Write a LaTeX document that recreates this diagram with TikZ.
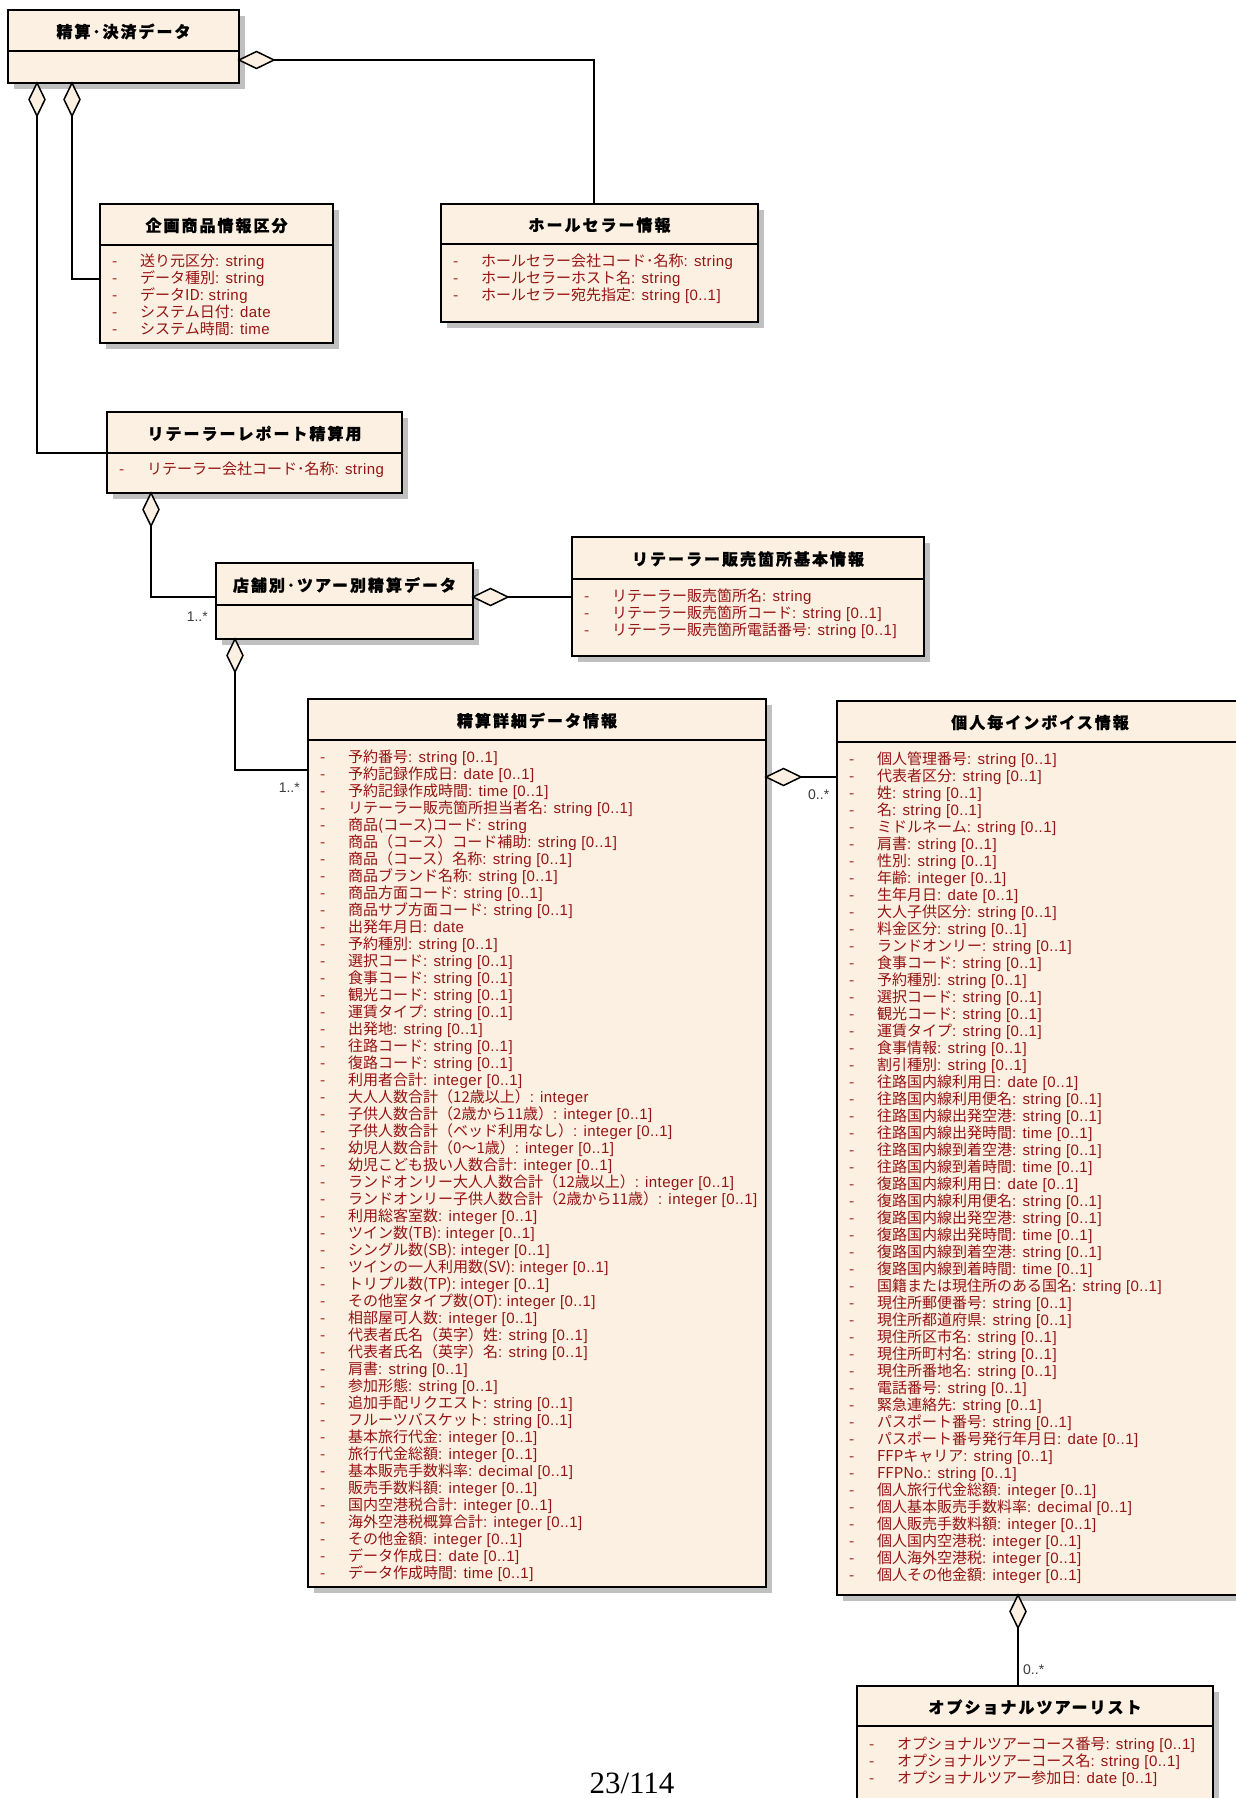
\documentclass[tikz,border=0pt]{standalone}
\usepackage{fontspec}
\usetikzlibrary{shapes.geometric,calc}
\newfontfamily\jpfont{Noto Sans CJK JP}
\newfontfamily\jptitle[LetterSpace=12.5,BoldFeatures={FakeBold=0.8}]{Noto Sans CJK JP}
\newfontfamily\latinfont[LetterSpace=3]{Liberation Sans}
\newfontfamily\pagefont{Liberation Serif}
\newfontfamily\multfont{Liberation Sans}
\definecolor{boxfill}{RGB}{251,240,225}
\definecolor{attrred}{RGB}{150,20,20}
\definecolor{shadowgray}{RGB}{192,192,192}
\definecolor{multgray}{RGB}{60,60,60}
\tikzset{
  classbox/.style={draw=black, line width=1.8pt, fill=boxfill, rectangle, inner sep=0pt, outer sep=0pt, anchor=north west},
  titletext/.style={font=\jptitle\bfseries\fontsize{16}{18}\selectfont, inner sep=0pt},
  attrtext/.style={font=\jpfont\fontsize{15}{17}\selectfont, text=attrred, inner sep=0pt, anchor=base west},
  conn/.style={draw=black, line width=1.5pt},
  aggdiamond/.style={diamond, draw=black, line width=1.5pt, fill=boxfill, inner sep=0pt, outer sep=0pt},
  vdiam/.style={aggdiamond, minimum width=16pt, minimum height=33pt, anchor=north},
  hdiam/.style={aggdiamond, minimum width=35pt, minimum height=17pt, anchor=west},
  mult/.style={font=\multfont\fontsize{14}{16}\selectfont, text=multgray, inner sep=0pt}
}
\def\attrsplit#1: #2\relax{{\jpfont #1}{\latinfont: #2}}
\newcommand\classbox[7]{%
  \fill[shadowgray] (#2+6,#3+6) rectangle (#2+#4+6,#3+#5+6);
  \node[classbox, minimum width=#4pt, minimum height=#5pt] (#1) at (#2,#3) {};
  \draw[line width=1.5pt] (#2,#3+#6) -- (#2+#4,#3+#6);
  \node[titletext] (#1-title) at (#2+#4/2,#3+#6/2+1) {#7};
}
\newcommand\attrlist[4]{%
  \foreach \txt [count=\n] in {#4} {
    \node[attrtext] (#1-a\n) at (#2+12, #3+6+\n*17-17) {\makebox[28pt][l]{-}\expandafter\attrsplit\txt\relax};
  }
}
\begin{document}
\begin{tikzpicture}[x=1pt,y=-1pt]
\useasboundingbox (0,0) rectangle (1236,1798);
\clip (0,0) rectangle (1236,1798);
\fill[white] (0,0) rectangle (1236,1798);

\classbox{A}{8}{10}{231}{73}{41}{精算･決済データ}
\classbox{B}{100}{204}{233}{139}{41}{企画商品情報区分}
\classbox{C}{441}{204}{317}{118}{40}{ホールセラー情報}
\classbox{D}{107}{412}{295}{81}{41}{リテーラーレポート精算用}
\classbox{E}{216}{563}{257}{76}{42}{店舗別･ツアー別精算データ}
\classbox{F}{572}{537}{352}{119}{42}{リテーラー販売箇所基本情報}
\classbox{G}{308}{699}{458}{888}{41}{精算詳細データ情報}
\classbox{H}{837}{701}{406}{894}{41}{個人毎インボイス情報}
\classbox{I}{857}{1686}{356}{150}{40}{オプショナルツアーリスト}

\attrlist{B}{100}{260}{{送り元区分: string},{データ種別: string},{データID: string},{システム日付: date},{システム時間: time}}
\attrlist{C}{441}{260}{{ホールセラー会社コード･名称: string},{ホールセラーホスト名: string},{ホールセラー宛先指定: string [0..1]}}
\attrlist{D}{107}{468}{{リテーラー会社コード･名称: string}}
\attrlist{F}{572}{595}{{リテーラー販売箇所名: string},{リテーラー販売箇所コード: string [0..1]},{リテーラー販売箇所電話番号: string [0..1]}}
\attrlist{G}{308}{756}{%
{予約番号: string [0..1]},
{予約記録作成日: date [0..1]},
{予約記録作成時間: time [0..1]},
{リテーラー販売箇所担当者名: string [0..1]},
{商品(コース)コード: string},
{商品（コース）コード補助: string [0..1]},
{商品（コース）名称: string [0..1]},
{商品ブランド名称: string [0..1]},
{商品方面コード: string [0..1]},
{商品サブ方面コード: string [0..1]},
{出発年月日: date},
{予約種別: string [0..1]},
{選択コード: string [0..1]},
{食事コード: string [0..1]},
{観光コード: string [0..1]},
{運賃タイプ: string [0..1]},
{出発地: string [0..1]},
{往路コード: string [0..1]},
{復路コード: string [0..1]},
{利用者合計: integer [0..1]},
{大人人数合計（12歳以上）: integer},
{子供人数合計（2歳から11歳）: integer [0..1]},
{子供人数合計（ベッド利用なし）: integer [0..1]},
{幼児人数合計（0～1歳）: integer [0..1]},
{幼児こども扱い人数合計: integer [0..1]},
{ランドオンリー大人人数合計（12歳以上）: integer [0..1]},
{ランドオンリー子供人数合計（2歳から11歳）: integer [0..1]},
{利用総客室数: integer [0..1]},
{ツイン数(TB): integer [0..1]},
{シングル数(SB): integer [0..1]},
{ツインの一人利用数(SV): integer [0..1]},
{トリプル数(TP): integer [0..1]},
{その他室タイプ数(OT): integer [0..1]},
{相部屋可人数: integer [0..1]},
{代表者氏名（英字）姓: string [0..1]},
{代表者氏名（英字）名: string [0..1]},
{肩書: string [0..1]},
{参加形態: string [0..1]},
{追加手配リクエスト: string [0..1]},
{フルーツバスケット: string [0..1]},
{基本旅行代金: integer [0..1]},
{旅行代金総額: integer [0..1]},
{基本販売手数料率: decimal [0..1]},
{販売手数料額: integer [0..1]},
{国内空港税合計: integer [0..1]},
{海外空港税概算合計: integer [0..1]},
{その他金額: integer [0..1]},
{データ作成日: date [0..1]},
{データ作成時間: time [0..1]}}
\attrlist{H}{837}{758}{%
{個人管理番号: string [0..1]},
{代表者区分: string [0..1]},
{姓: string [0..1]},
{名: string [0..1]},
{ミドルネーム: string [0..1]},
{肩書: string [0..1]},
{性別: string [0..1]},
{年齢: integer [0..1]},
{生年月日: date [0..1]},
{大人子供区分: string [0..1]},
{料金区分: string [0..1]},
{ランドオンリー: string [0..1]},
{食事コード: string [0..1]},
{予約種別: string [0..1]},
{選択コード: string [0..1]},
{観光コード: string [0..1]},
{運賃タイプ: string [0..1]},
{食事情報: string [0..1]},
{割引種別: string [0..1]},
{往路国内線利用日: date [0..1]},
{往路国内線利用便名: string [0..1]},
{往路国内線出発空港: string [0..1]},
{往路国内線出発時間: time [0..1]},
{往路国内線到着空港: string [0..1]},
{往路国内線到着時間: time [0..1]},
{復路国内線利用日: date [0..1]},
{復路国内線利用便名: string [0..1]},
{復路国内線出発空港: string [0..1]},
{復路国内線出発時間: time [0..1]},
{復路国内線到着空港: string [0..1]},
{復路国内線到着時間: time [0..1]},
{国籍または現住所のある国名: string [0..1]},
{現住所郵便番号: string [0..1]},
{現住所都道府県: string [0..1]},
{現住所区市名: string [0..1]},
{現住所町村名: string [0..1]},
{現住所番地名: string [0..1]},
{電話番号: string [0..1]},
{緊急連絡先: string [0..1]},
{パスポート番号: string [0..1]},
{パスポート番号発行年月日: date [0..1]},
{FFPキャリア: string [0..1]},
{FFPNo.: string [0..1]},
{個人旅行代金総額: integer [0..1]},
{個人基本販売手数料率: decimal [0..1]},
{個人販売手数料額: integer [0..1]},
{個人国内空港税: integer [0..1]},
{個人海外空港税: integer [0..1]},
{個人その他金額: integer [0..1]}}
\attrlist{I}{857}{1743}{{オプショナルツアーコース番号: string [0..1]},{オプショナルツアーコース名: string [0..1]},{オプショナルツアー参加日: date [0..1]}}

% aggregation diamonds
\node[vdiam] (dAD) at ([xshift=29pt]A.south west) {};
\node[vdiam] (dAB) at ([xshift=64pt]A.south west) {};
\node[hdiam] (dAC) at ([yshift=-50pt]A.north east) {};
\node[vdiam] (dDE) at ([xshift=44pt]D.south west) {};
\node[hdiam] (dEF) at ([yshift=-34pt]E.north east) {};
\node[vdiam] (dEG) at ([xshift=19pt]E.south west) {};
\node[hdiam] (dGH) at ([yshift=-78pt]G.north east) {};
\node[vdiam] (dHI) at ([xshift=181pt]H.south west) {};

% connectors
\draw[conn] (dAC.east) -| ([xshift=153pt]C.north west);
\draw[conn] (dAD.south) |- ([yshift=-41pt]D.north west);
\draw[conn] (dAB.south) |- ([yshift=-75pt]B.north west);
\draw[conn] (dDE.south) |- ([yshift=-34pt]E.north west);
\draw[conn] (dEF.east) -- (dEF.east -| F.west);
\draw[conn] (dEG.south) |- ([yshift=-71pt]G.north west);
\draw[conn] (dGH.east) -- (dGH.east -| H.west);
\draw[conn] (dHI.south) -- (dHI.south |- I.north);

% multiplicities
\node[mult, anchor=east] (m1) at (208,617) {1..*};
\node[mult, anchor=east] (m2) at (300,788) {1..*};
\node[mult, anchor=west] (m3) at (808,795) {0..*};
\node[mult, anchor=west] (m4) at (1023,1670) {0..*};

\node[font=\pagefont\fontsize{31}{31}\selectfont, inner sep=0pt, anchor=base] (pg) at (632,1793) {23/114};
\end{tikzpicture}
\end{document}
